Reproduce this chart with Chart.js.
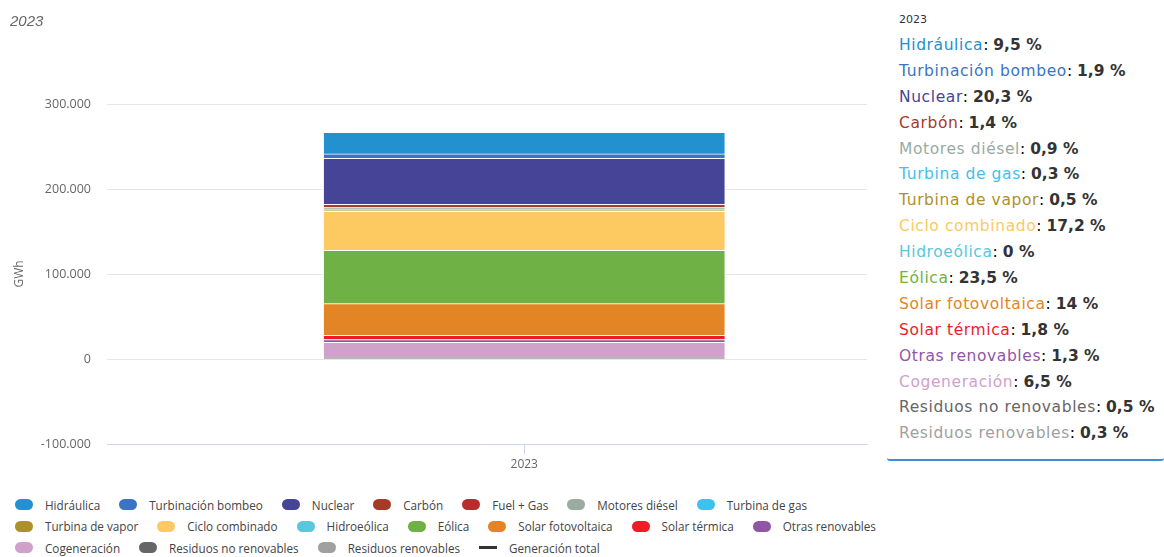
<!DOCTYPE html>
<html>
<head>
<meta charset="utf-8">
<script src="https://cdn.jsdelivr.net/npm/chart.js@4.4.0/dist/chart.umd.min.js"></script>
<style>
    body { margin: 0; background: #fff; width: 1164px; height: 557px; overflow: hidden; position: relative; font-family: "Open Sans", sans-serif; }
    #chartBox { position: absolute; left: 0; top: 0; width: 880px; height: 480px; }
    #legend { position: absolute; left: 15px; top: 494px; width: 905px; display: flex; flex-wrap: wrap; font-size: 11.7px; color: #444; }
    #legend .item { display: flex; align-items: center; height: 21.5px; margin-right: 19px; white-space: nowrap; }
    #legend .mark { width: 18px; height: 11px; border-radius: 6px; margin-right: 12px; }
    #legend .mark.line { height: 3px; border-radius: 0; }
    #panel { position: absolute; left: 887px; top: 0; width: 277px; height: 459px; background: #fff; border-bottom: 2px solid #3d8fd1; border-radius: 0 0 3px 3px; font-family: "DejaVu Sans", sans-serif; }
    #panel .head { position: absolute; left: 12px; top: 12px; font-size: 11px; line-height: 16px; color: #333; }
    #panel .rows { position: absolute; left: 12px; top: 33px; }
    #panel .row { font-size: 15.5px; height: 25.9px; line-height: 25.9px; white-space: nowrap; }
    #panel .row span { letter-spacing: 0.6px; }
    #panel .row b { color: #333; }
</style>
</head>
<body>
<div id="chartBox"><canvas id="myChart"></canvas></div>
<div id="legend"></div>
<div id="panel"><div class="head" id="panelHead"></div><div class="rows" id="panelRows"></div></div>
<script>
const years = ['2023'];
const seriesNames = ['Hidráulica', 'Turbinación bombeo', 'Nuclear', 'Carbón', 'Fuel + Gas', 'Motores diésel',
    'Turbina de gas', 'Turbina de vapor', 'Ciclo combinado', 'Hidroeólica', 'Eólica', 'Solar fotovoltaica',
    'Solar térmica', 'Otras renovables', 'Cogeneración', 'Residuos no renovables', 'Residuos renovables'];
const seriesColors = ['#2390d0', '#3a74c4', '#464497', '#a63a28', '#ba2b30', '#9aaba2',
    '#3ec1ef', '#ae9028', '#fdc961', '#5bc6dd', '#6fb145', '#e38524',
    '#ec1d25', '#9255a6', '#d0a1cb', '#666666', '#a0a0a0'];
// GWh, 2023
const generation2023 = [25300, 5070, 54180, 3740, 0, 2400,
    800, 1330, 45900, 20, 62700, 37370,
    4800, 3470, 17350, 1330, 800];
const totalGeneration = [266900];
// shares shown in the side panel (null = not listed)
const shareLabels = ['9,5', '1,9', '20,3', '1,4', null, '0,9',
    '0,3', '0,5', '17,2', '0', '23,5', '14',
    '1,8', '1,3', '6,5', '0,5', '0,3'];
const yTicks = [-100000, 0, 100000, 200000, 300000];

Chart.defaults.font.family = '"Open Sans", sans-serif';
Chart.defaults.font.size = 12;
Chart.defaults.color = '#666';

function fmt(v) {
    const s = String(Math.abs(v)).replace(/\B(?=(\d{3})+(?!\d))/g, '.');
    return (v < 0 ? '-' : '') + s;
}

// bars: first series on top of the stack, so push them in reverse
let datasets = [];
for (let i = seriesNames.length - 1; i >= 0; i--) {
    datasets.push({
        type: 'bar',
        label: seriesNames[i],
        backgroundColor: seriesColors[i],
        borderColor: '#ffffff',
        borderWidth: 1,
        barThickness: 402,
        data: years.map(y => ({ x: Number(y), y: generation2023[i] }))
    });
}
datasets.push({
    type: 'line',
    label: 'Generación total',
    borderColor: '#333',
    borderWidth: 2,
    pointRadius: 0,
    data: years.map((y, j) => ({ x: Number(y), y: totalGeneration[j] }))
});

var ctx = document.getElementById('myChart').getContext('2d');
var chart = new Chart(ctx, {
    type: 'bar',
    data: { datasets: datasets },
    options: {
        responsive: true,
        maintainAspectRatio: false,
        animation: false,
        layout: { padding: { left: 10, right: 13, top: 0, bottom: 0 } },
        plugins: {
            legend: { display: false },
            tooltip: { enabled: false },
            title: {
                display: true,
                text: years[0],
                align: 'start',
                color: '#666',
                font: { family: '"Liberation Sans", sans-serif', size: 15, style: 'italic', weight: 'normal' },
                padding: { top: 13, bottom: 73 }
            }
        },
        scales: {
            x: {
                type: 'linear',
                min: 2022.451,
                max: 2023.451,
                offset: false,
                stacked: true,
                afterBuildTicks: s => { s.ticks = years.map(y => ({ value: Number(y) })); },
                afterFit: s => { s.height = 36; },
                ticks: { callback: v => String(v), color: '#666', padding: 3, maxRotation: 0 },
                grid: { drawOnChartArea: false, tickLength: 10, color: '#ccd6eb', offset: false },
                border: { color: '#ccd6eb', width: 1 }
            },
            y: {
                stacked: true,
                min: yTicks[0],
                max: yTicks[yTicks.length - 1],
                afterBuildTicks: s => { s.ticks = yTicks.map(v => ({ value: v })); },
                afterFit: s => { s.width = 97; },
                ticks: { callback: v => fmt(v), color: '#666', padding: 16, font: { size: 12.5 } },
                grid: { color: '#e6e6e6', drawTicks: false },
                border: { display: false },
                title: { display: true, text: 'GWh', color: '#666', font: { size: 12 }, padding: { top: 2, bottom: 0 } }
            }
        }
    }
});

// legend below the chart
const legend = document.getElementById('legend');
seriesNames.forEach((name, i) => {
    legend.insertAdjacentHTML('beforeend',
        `<div class="item"><span class="mark" style="background:${seriesColors[i]}"></span>${name}</div>`);
});
legend.insertAdjacentHTML('beforeend',
    `<div class="item"><span class="mark line" style="background:#333"></span>Generación total</div>`);

// fixed tooltip panel on the right
document.getElementById('panelHead').textContent = years[0];
const rows = document.getElementById('panelRows');
seriesNames.forEach((name, i) => {
    if (shareLabels[i] === null) return;
    rows.insertAdjacentHTML('beforeend',
        `<div class="row"><span style="color:${seriesColors[i]}">${name}</span>: <b>${shareLabels[i]} %</b></div>`);
});
</script>
</body>
</html>
